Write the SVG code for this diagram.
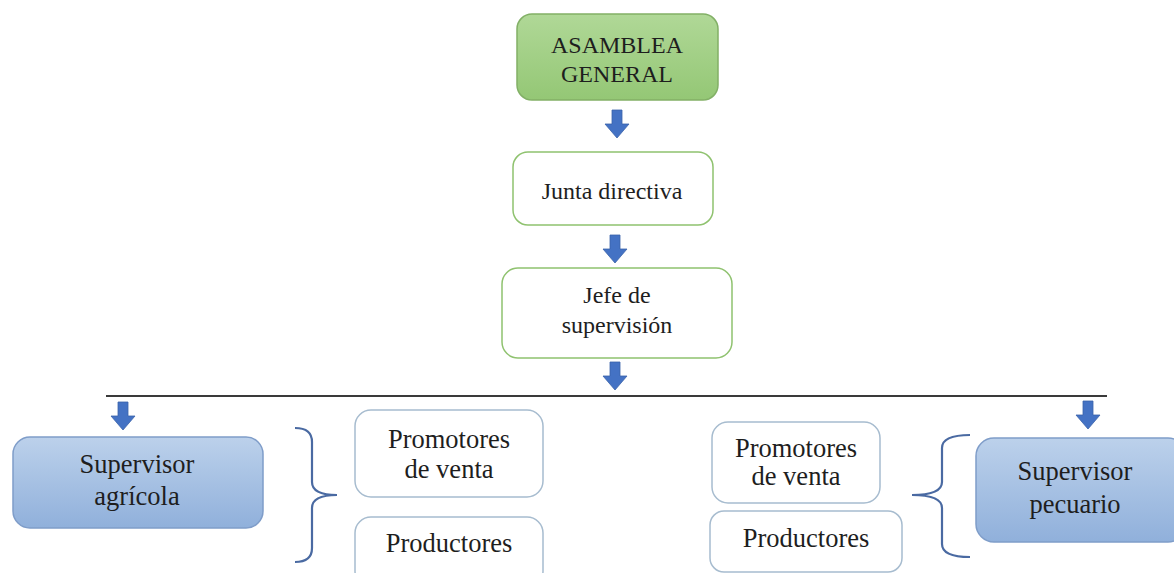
<svg xmlns="http://www.w3.org/2000/svg" width="1174" height="573" viewBox="0 0 1174 573">
<defs>
<linearGradient id="gGreen" x1="0" y1="0" x2="0" y2="1">
<stop offset="0" stop-color="#b0d897"/>
<stop offset="1" stop-color="#94c775"/>
</linearGradient>
<linearGradient id="gBlue" x1="0" y1="0" x2="0" y2="1">
<stop offset="0" stop-color="#bcd1eb"/>
<stop offset="1" stop-color="#90b0db"/>
</linearGradient>
<path id="arrow" d="M-5,0 H5 V14 H12 L0,28 L-12,14 H-5 Z" fill="#4472c4" stroke="#3b63aa" stroke-width="0.8"/>
</defs>
<style>
text{font-family:'Liberation Serif','Times New Roman','DejaVu Serif',serif;font-size:24px;fill:#1e1e1e;text-anchor:middle}
.big{font-size:26.5px}
.green{fill:url(#gGreen);stroke:#82b066;stroke-width:1.5}
.lgreen{fill:#ffffff;stroke:#8fc26f;stroke-width:1.5}
.blue{fill:url(#gBlue);stroke:#7f9dc9;stroke-width:1.5}
.small{fill:#ffffff;stroke:#a7bccf;stroke-width:1.5}
.brace{fill:none;stroke:#4a6aa2;stroke-width:2.2}
</style>
<rect width="1174" height="573" fill="#ffffff"/>

<g id="asamblea">
<rect class="green" x="517" y="14" width="201" height="86" rx="15"/>
<text x="617" y="53" font-family="Liberation Serif, serif">ASAMBLEA</text>
<text x="617" y="82" font-family="Liberation Serif, serif">GENERAL</text>
</g>

<g id="junta">
<rect class="lgreen" x="513" y="152" width="200" height="73" rx="15"/>
<text x="612" y="199" font-family="Liberation Serif, serif">Junta directiva</text>
</g>

<g id="jefe">
<rect class="lgreen" x="502" y="268" width="230" height="90" rx="16"/>
<text x="617" y="303" font-family="Liberation Serif, serif">Jefe de</text>
<text x="617" y="333" font-family="Liberation Serif, serif">supervisión</text>
</g>

<g id="sup-agricola">
<rect class="blue" x="13" y="437" width="250" height="91" rx="17"/>
<text class="big" x="137" y="473" font-family="Liberation Serif, serif">Supervisor</text>
<text class="big" x="137" y="505" font-family="Liberation Serif, serif">agrícola</text>
</g>

<g id="promotores-izq">
<rect class="small" x="355" y="410" width="188" height="87" rx="16"/>
<text class="big" x="449" y="448" font-family="Liberation Serif, serif">Promotores</text>
<text class="big" x="449" y="478" font-family="Liberation Serif, serif">de venta</text>
</g>

<g id="productores-izq">
<rect class="small" x="355" y="517" width="188" height="70" rx="16"/>
<text class="big" x="449" y="552" font-family="Liberation Serif, serif">Productores</text>
</g>

<g id="promotores-der">
<rect class="small" x="712" y="422" width="168" height="81" rx="16"/>
<text class="big" x="796" y="457" font-family="Liberation Serif, serif">Promotores</text>
<text class="big" x="796" y="485" font-family="Liberation Serif, serif">de venta</text>
</g>

<g id="productores-der">
<rect class="small" x="710" y="511" width="192" height="61" rx="14"/>
<text class="big" x="806" y="547" font-family="Liberation Serif, serif">Productores</text>
</g>

<g id="sup-pecuario">
<rect class="blue" x="976" y="438" width="210" height="104" rx="18"/>
<text class="big" x="1075" y="480" font-family="Liberation Serif, serif">Supervisor</text>
<text class="big" x="1075" y="513" font-family="Liberation Serif, serif">pecuario</text>
</g>

<g id="connectors">
<use href="#arrow" x="617" y="110"/>
<use href="#arrow" x="615" y="235"/>
<use href="#arrow" x="615" y="362"/>
<line x1="106" y1="396" x2="1107" y2="396" stroke="#3a3a3a" stroke-width="2"/>
<use href="#arrow" x="123" y="402"/>
<use href="#arrow" x="1088" y="401"/>
<path class="brace" d="M295,428 Q312,428 312,442 L312,482 Q312,495 337,495 M337,495 Q312,495 312,508 L312,548 Q312,562 295,562"/>
<path class="brace" d="M970,435 Q942,435 942,448 L942,482 Q942,495 912,495 M912,495 Q942,495 942,508 L942,544 Q942,557 970,557"/>
</g>
</svg>
